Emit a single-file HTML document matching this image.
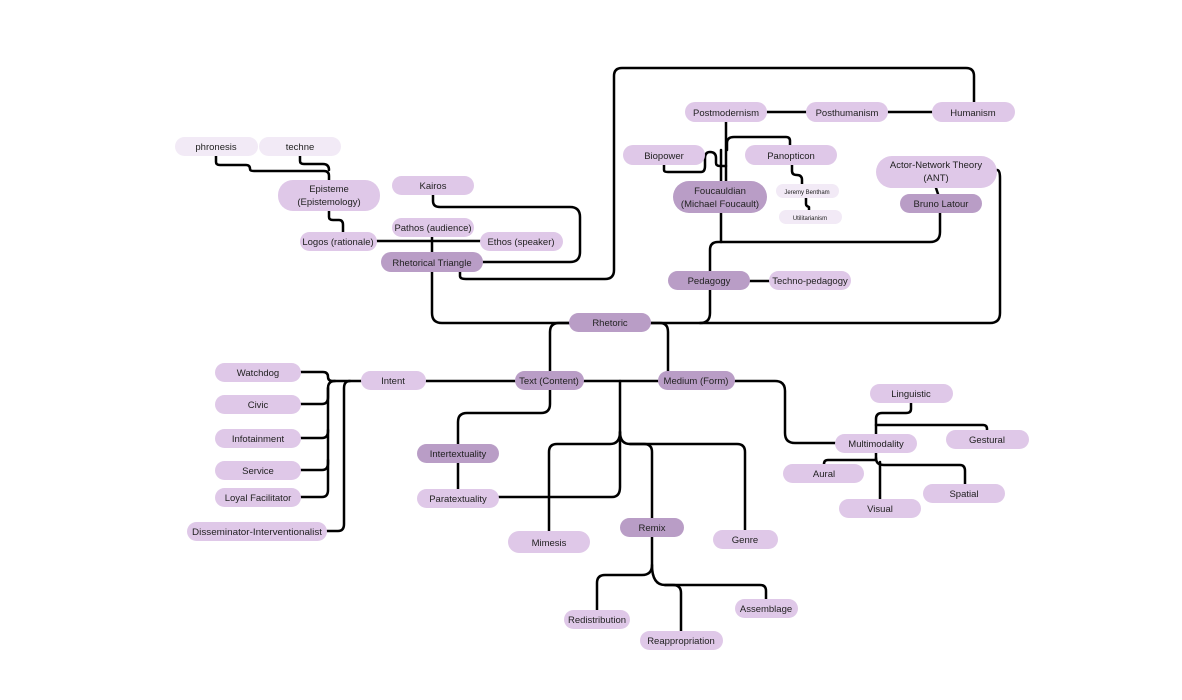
<!DOCTYPE html>
<html><head><meta charset="utf-8"><style>
html,body{margin:0;padding:0;background:#fff;}
svg{display:block;}
text{font-family:"Liberation Sans",sans-serif;font-size:9.5px;fill:#222;text-anchor:middle;}
.l{fill:#dfc8e8;} .d{fill:#b99dc6;} .v{fill:#f2eaf6;}
path{fill:none;stroke:#000;stroke-width:2.5;stroke-linejoin:round;stroke-linecap:round;}
</style></head><body>
<svg width="1182" height="700" viewBox="0 0 1182 700" xmlns="http://www.w3.org/2000/svg">
<path d="M216,156 V162 Q216,165 220,165 H246 Q250,165 250,169 Q250,171 254,171 H324 Q329,171 329,176 V180"/>
<path d="M300,156 V161 Q300,164 304,164 H323 Q329,164 329,170"/>
<path d="M329,211 V217 Q329,220 333,220 H339 Q343,220 343,225 V232"/>
<path d="M377,241 H480"/>
<path d="M432,237 V252"/>
<path d="M433,195 V201 Q433,207 440,207 H570 Q580,207 580,217 V252 Q580,262 570,262 H483"/>
<path d="M460,272 V276 Q460,279 466,279 H605 Q614,279 614,270 V76 Q614,68 622,68 H966 Q974,68 974,76 V102"/>
<path d="M432,272 V313 Q432,323 442,323 H569"/>
<path d="M651,323 H990 Q1000,323 1000,313 V178 Q1000,170 997,170"/>
<path d="M569,323 H559 Q550,323 550,332 V371"/>
<path d="M651,323 H660 Q668,323 668,332 V371"/>
<path d="M767,112 H806"/><path d="M888,112 H932"/>
<path d="M726,122 V181"/>
<path d="M664,165 V170 Q664,172 668,172 H701 Q705,172 705,166 V158 Q705,152 710,152 Q716,152 716,158 V163 Q716,166 720,166 H726"/>
<path d="M727,150 V143 Q727,137 734,137 H786 Q790,137 790,141 V145"/>
<path d="M792,165 V171 Q792,175 797,175 Q802,175 802,180 V184"/>
<path d="M806,198 V204 Q806,206 809,207 V210"/>
<path d="M721,150 V242"/>
<path d="M940,213 V232 Q940,242 930,242 H718 Q710,242 710,250 V271"/>
<path d="M710,290 V313 Q710,323 700,323"/>
<path d="M936,188 L938,194"/>
<path d="M750,281 H769"/>
<path d="M301,372 H323 Q328,372 328,377 Q328,381 333,381 H361"/>
<path d="M301,404 H322 Q328,404 328,397 V388 Q328,381 335,381"/>
<path d="M301,438 H322 Q328,438 328,431 V388"/>
<path d="M301,470 H322 Q328,470 328,463 V430"/>
<path d="M301,497 H322 Q328,497 328,490 V460"/>
<path d="M327,531 H338 Q344,531 344,524 V388 Q344,381 350,381"/>
<path d="M426,381 H515"/><path d="M584,381 H658"/>
<path d="M550,390 V404 Q550,413 541,413 H467 Q458,413 458,422 V444"/>
<path d="M458,463 V489"/>
<path d="M499,497 H612 Q620,497 620,487 V381"/>
<path d="M620,432 Q620,444 610,444 H557 Q549,444 549,452 V531"/>
<path d="M620,432 Q620,444 630,444 H737 Q745,444 745,452 V530"/>
<path d="M630,444 H644 Q652,444 652,452 V518"/>
<path d="M652,537 V565 Q652,575 642,575 H605 Q597,575 597,583 V610"/>
<path d="M652,565 Q652,585 665,585 H673 Q681,585 681,593 V631"/>
<path d="M665,585 H760 Q766,585 766,591 V599"/>
<path d="M735,381 H775 Q785,381 785,391 V433 Q785,443 795,443 H835"/>
<path d="M911,403 V409 Q911,413 906,413 H882 Q876,413 876,419 V434"/>
<path d="M876,425 H983 Q987,425 987,429 V430"/>
<path d="M876,453 V460 H828 Q824,460 824,464"/>
<path d="M876,458 Q876,465 884,465 H960 Q965,465 965,471 V484"/>
<path d="M880,462 V499"/>
<g>
<rect class="v" x="175" y="137" width="83" height="19" rx="9.5"/><text x="216" y="150">phronesis</text>
<rect class="v" x="259" y="137" width="82" height="19" rx="9.5"/><text x="300" y="150">techne</text>
<rect class="l" x="278" y="180" width="102" height="31" rx="15"/><text x="329" y="192">Episteme</text><text x="329" y="205">(Epistemology)</text>
<rect class="l" x="392" y="176" width="82" height="19" rx="9.5"/><text x="433" y="189">Kairos</text>
<rect class="l" x="392" y="218" width="82" height="19" rx="9.5"/><text x="433" y="231">Pathos (audience)</text>
<rect class="l" x="300" y="232" width="77" height="19" rx="9.5"/><text x="338" y="245">Logos (rationale)</text>
<rect class="l" x="480" y="232" width="83" height="19" rx="9.5"/><text x="521" y="245">Ethos (speaker)</text>
<rect class="d" x="381" y="252" width="102" height="20" rx="10"/><text x="432" y="266">Rhetorical Triangle</text>
<rect class="l" x="685" y="102" width="82" height="20" rx="10"/><text x="726" y="116">Postmodernism</text>
<rect class="l" x="806" y="102" width="82" height="20" rx="10"/><text x="847" y="116">Posthumanism</text>
<rect class="l" x="932" y="102" width="83" height="20" rx="10"/><text x="973" y="116">Humanism</text>
<rect class="l" x="623" y="145" width="82" height="20" rx="10"/><text x="664" y="159">Biopower</text>
<rect class="l" x="745" y="145" width="92" height="20" rx="10"/><text x="791" y="159">Panopticon</text>
<rect class="d" x="673" y="181" width="94" height="32" rx="16"/><text x="720" y="194">Foucauldian</text><text x="720" y="207">(Michael Foucault)</text>
<rect class="v" x="776" y="184" width="63" height="14" rx="7"/><text x="807" y="194" style="font-size:6px">Jeremy Bentham</text>
<rect class="v" x="779" y="210" width="63" height="14" rx="7"/><text x="810" y="220" style="font-size:6px">Utilitarianism</text>
<rect class="l" x="876" y="156" width="121" height="32" rx="16"/><text x="936" y="168">Actor-Network Theory</text><text x="936" y="181">(ANT)</text>
<rect class="d" x="900" y="194" width="82" height="19" rx="9.5"/><text x="941" y="207">Bruno Latour</text>
<rect class="d" x="668" y="271" width="82" height="19" rx="9.5"/><text x="709" y="284">Pedagogy</text>
<rect class="l" x="769" y="271" width="82" height="19" rx="9.5"/><text x="810" y="284">Techno-pedagogy</text>
<rect class="d" x="569" y="313" width="82" height="19" rx="9.5"/><text x="610" y="326">Rhetoric</text>
<rect class="l" x="361" y="371" width="65" height="19" rx="9.5"/><text x="393" y="384">Intent</text>
<rect class="d" x="515" y="371" width="69" height="19" rx="9.5"/><text x="549" y="384">Text (Content)</text>
<rect class="d" x="658" y="371" width="77" height="19" rx="9.5"/><text x="696" y="384">Medium (Form)</text>
<rect class="l" x="215" y="363" width="86" height="19" rx="9.5"/><text x="258" y="376">Watchdog</text>
<rect class="l" x="215" y="395" width="86" height="19" rx="9.5"/><text x="258" y="408">Civic</text>
<rect class="l" x="215" y="429" width="86" height="19" rx="9.5"/><text x="258" y="442">Infotainment</text>
<rect class="l" x="215" y="461" width="86" height="19" rx="9.5"/><text x="258" y="474">Service</text>
<rect class="l" x="215" y="488" width="86" height="19" rx="9.5"/><text x="258" y="501">Loyal Facilitator</text>
<rect class="l" x="187" y="522" width="140" height="19" rx="9.5"/><text x="257" y="535" textLength="130" lengthAdjust="spacingAndGlyphs">Disseminator-Interventionalist</text>
<rect class="d" x="417" y="444" width="82" height="19" rx="9.5"/><text x="458" y="457">Intertextuality</text>
<rect class="l" x="417" y="489" width="82" height="19" rx="9.5"/><text x="458" y="502">Paratextuality</text>
<rect class="l" x="508" y="531" width="82" height="22" rx="11"/><text x="549" y="546">Mimesis</text>
<rect class="d" x="620" y="518" width="64" height="19" rx="9.5"/><text x="652" y="531">Remix</text>
<rect class="l" x="713" y="530" width="65" height="19" rx="9.5"/><text x="745" y="543">Genre</text>
<rect class="l" x="564" y="610" width="66" height="19" rx="9.5"/><text x="597" y="623">Redistribution</text>
<rect class="l" x="640" y="631" width="83" height="19" rx="9.5"/><text x="681" y="644">Reappropriation</text>
<rect class="l" x="735" y="599" width="63" height="19" rx="9.5"/><text x="766" y="612">Assemblage</text>
<rect class="l" x="870" y="384" width="83" height="19" rx="9.5"/><text x="911" y="397">Linguistic</text>
<rect class="l" x="835" y="434" width="82" height="19" rx="9.5"/><text x="876" y="447">Multimodality</text>
<rect class="l" x="946" y="430" width="83" height="19" rx="9.5"/><text x="987" y="443">Gestural</text>
<rect class="l" x="783" y="464" width="81" height="19" rx="9.5"/><text x="824" y="477">Aural</text>
<rect class="l" x="923" y="484" width="82" height="19" rx="9.5"/><text x="964" y="497">Spatial</text>
<rect class="l" x="839" y="499" width="82" height="19" rx="9.5"/><text x="880" y="512">Visual</text>
</g>
</svg>
</body></html>
